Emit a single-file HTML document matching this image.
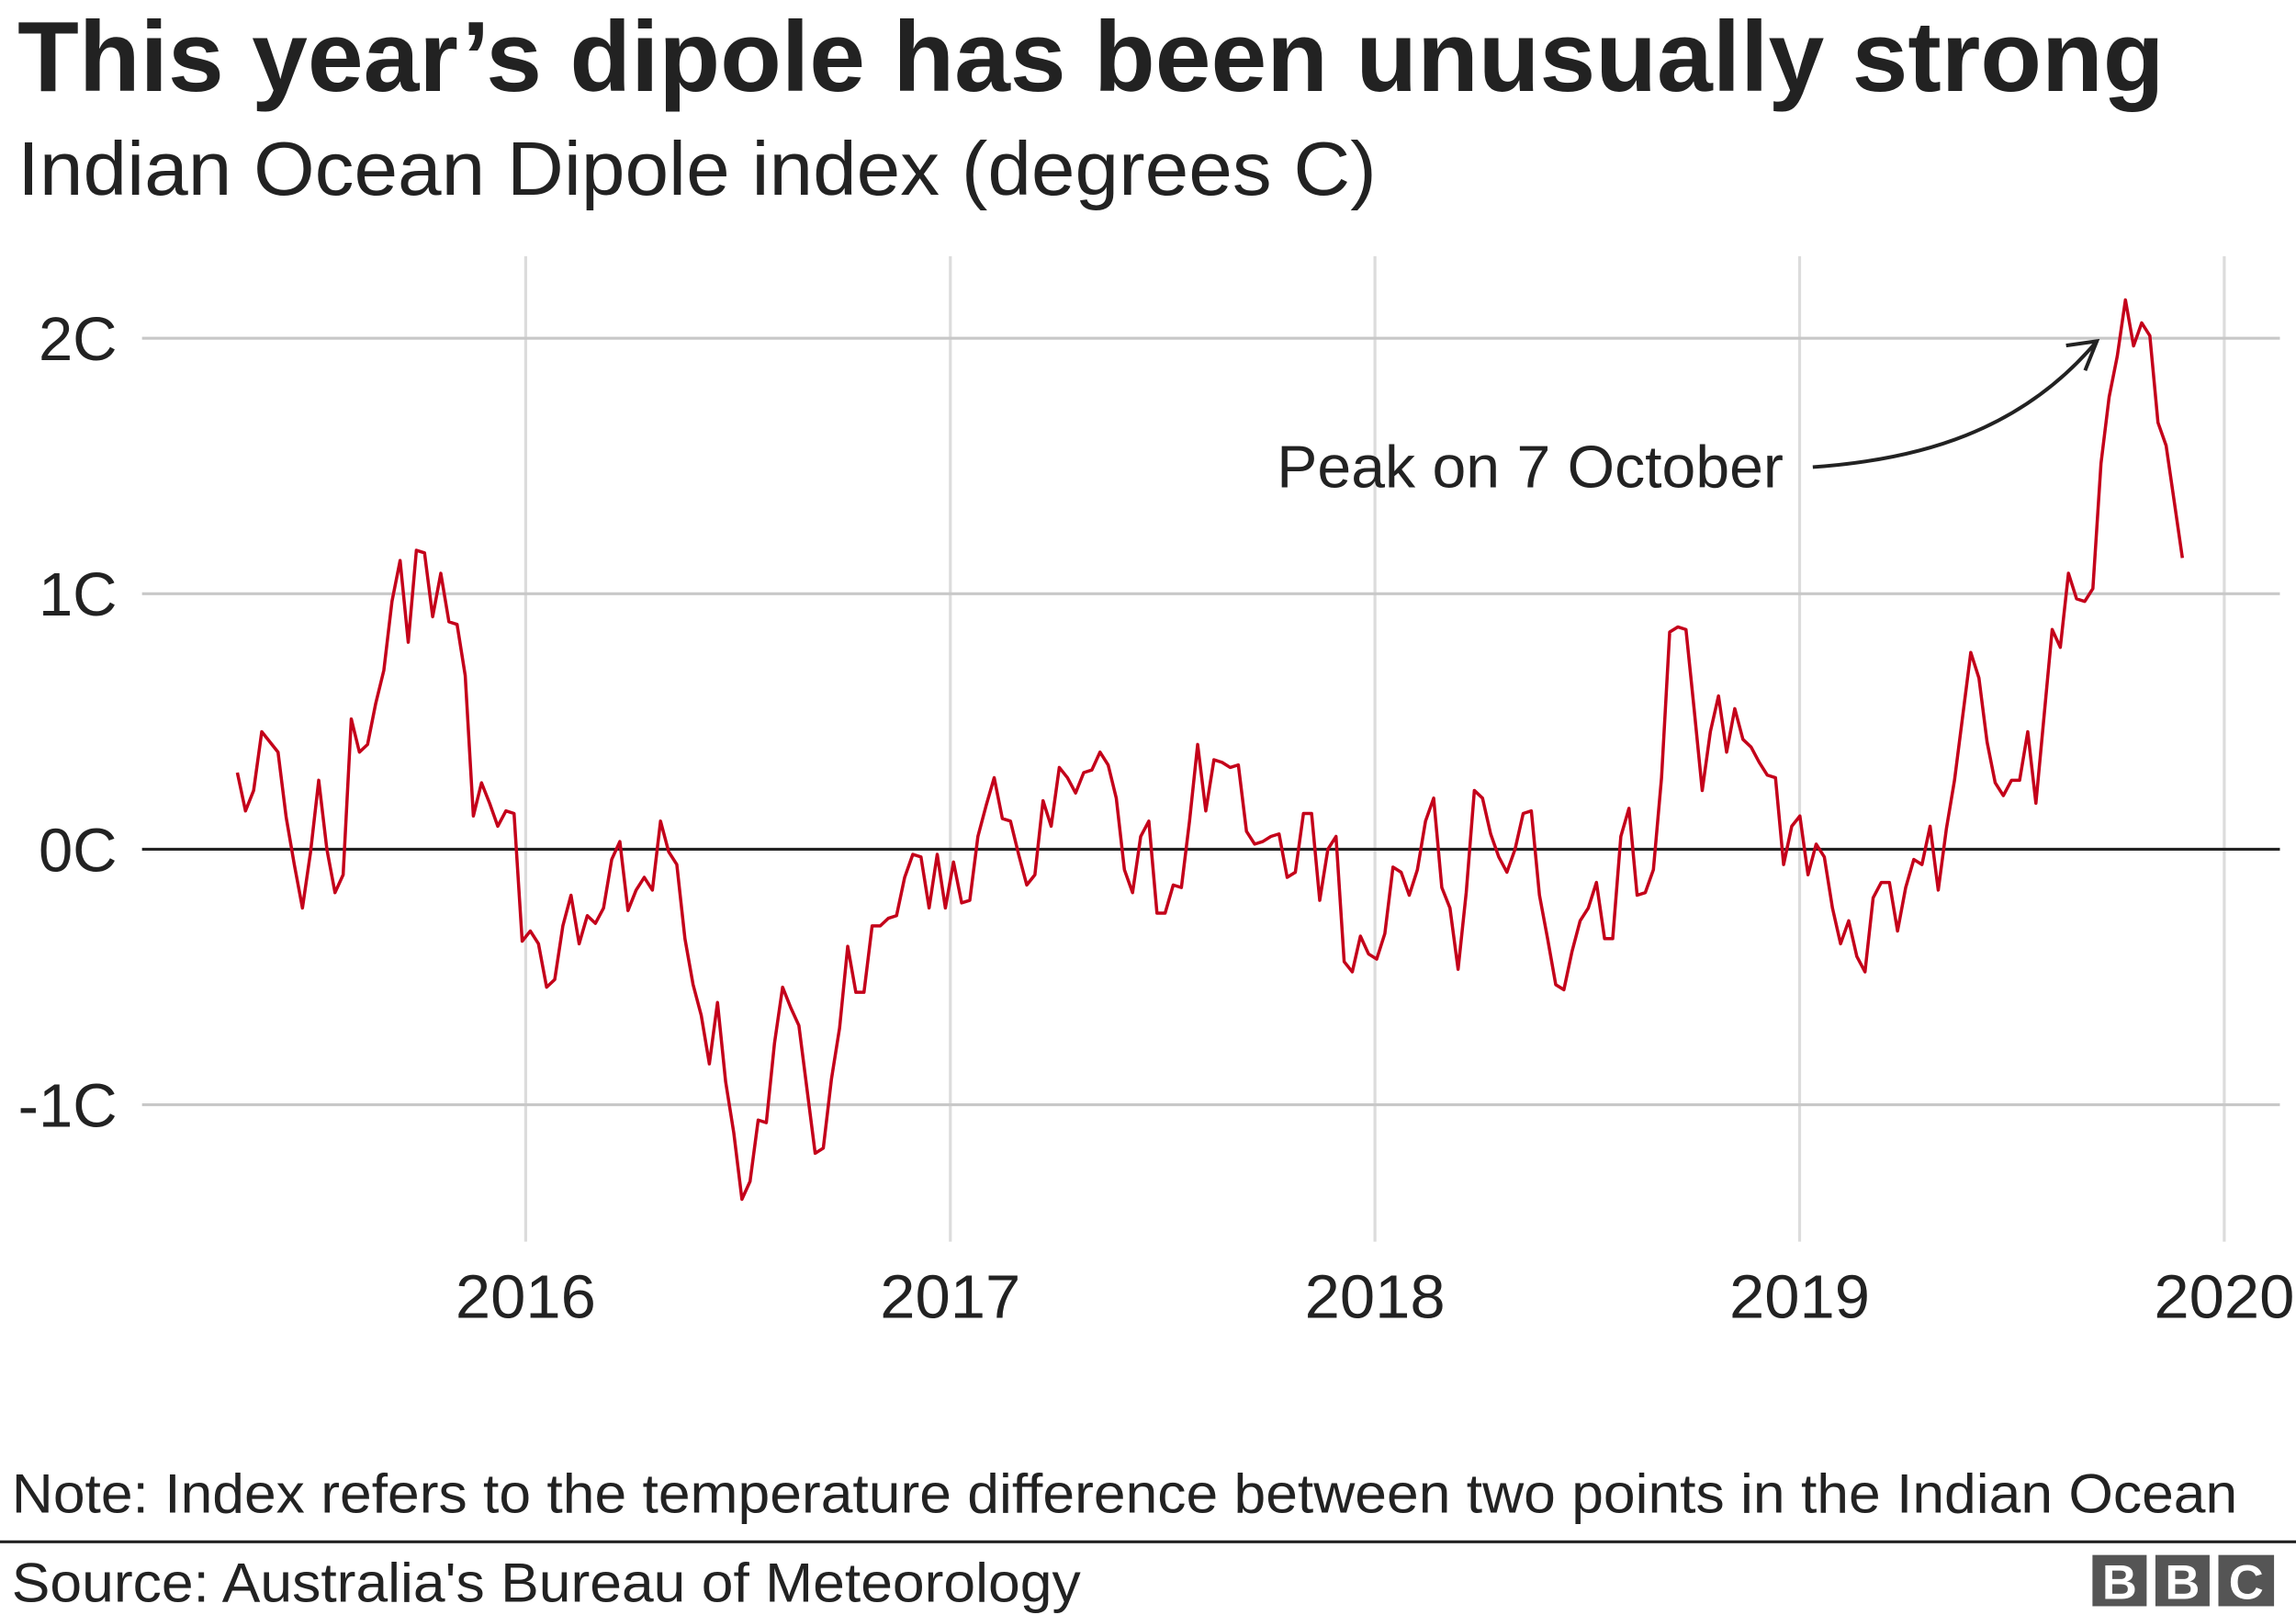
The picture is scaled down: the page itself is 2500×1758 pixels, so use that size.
<!DOCTYPE html>
<html><head><meta charset="utf-8"><style>
html,body{margin:0;padding:0;background:#fff;}
svg{display:block;}
text{font-family:"Liberation Sans",Arial,sans-serif;fill:#222;}
</style></head><body>
<svg id="chart" width="2500" height="1758" viewBox="0 0 1568 1103" preserveAspectRatio="none">
<text x="12" y="62" font-size="68" font-weight="bold" textLength="1466" lengthAdjust="spacingAndGlyphs">This year’s dipole has been unusually strong</text>
<text x="12" y="133" font-size="52" textLength="928" lengthAdjust="spacingAndGlyphs">Indian Ocean Dipole index (degrees C)</text>
<g id="grid"></g>
<g id="axes"></g>
<path id="series" fill="none" stroke="#c4001a" stroke-width="2.2" stroke-linejoin="round"></path>
<text x="872" y="333" font-size="41" textLength="346" lengthAdjust="spacingAndGlyphs">Peak on 7 October</text>
<path d="M1238,319 C1310,314 1380,295 1432,233" fill="none" stroke="#222" stroke-width="2.5"></path>
<path d="M1411,236 L1432,233 L1424,253" fill="none" stroke="#222" stroke-width="2.5"></path>
<text x="8" y="1033" font-size="38" textLength="1520" lengthAdjust="spacingAndGlyphs">Note: Index refers to the temperature difference between two points in the Indian Ocean</text>
<line x1="0" y1="1053" x2="1568" y2="1053" stroke="#222" stroke-width="2"></line>
<text x="8" y="1094" font-size="38" textLength="730" lengthAdjust="spacingAndGlyphs">Source: Australia's Bureau of Meteorology</text>
<g>
<rect x="1429" y="1062" width="37" height="35" fill="#555"></rect>
<rect x="1472" y="1062" width="37" height="35" fill="#555"></rect>
<rect x="1515" y="1062" width="38" height="35" fill="#555"></rect>
<text x="1447.5" y="1092" font-size="33" font-weight="bold" text-anchor="middle" style="fill:#fff">B</text>
<text x="1490.5" y="1092" font-size="33" font-weight="bold" text-anchor="middle" style="fill:#fff">B</text>
<text x="1534" y="1092" font-size="33" font-weight="bold" text-anchor="middle" style="fill:#fff">C</text>
</g>
</svg>
<script>
const startYear = 2015.321;
const yTicks = [2, 1, 0, -1];
const yTickLabels = ["2C", "1C", "0C", "-1C"];
const xTicks = [2016, 2017, 2018, 2019, 2020];
const xTickLabels = ["2016", "2017", "2018", "2019", "2020"];
const values = [
0.30,0.15,0.23,0.46,0.42,0.38,0.125,-0.06,-0.23,-0.01,0.27,0.0,-0.17,-0.10,0.51,0.38,0.41,0.57,0.70,0.97,
1.13,0.81,1.17,1.16,0.91,1.08,0.89,0.88,0.68,0.13,0.26,0.18,0.09,0.15,0.14,-0.36,-0.32,-0.37,-0.54,-0.51,
-0.30,-0.18,-0.37,-0.26,-0.29,-0.23,-0.04,0.03,-0.24,-0.16,-0.11,-0.16,0.11,-0.01,-0.06,-0.35,-0.53,-0.65,-0.84,-0.60,
-0.91,-1.11,-1.37,-1.30,-1.06,-1.07,
-0.76,-0.54,-0.62,-0.69,-0.94,-1.19,-1.17,-0.90,-0.70,-0.38,-0.56,-0.56,-0.30,-0.30,-0.27,-0.26,-0.11,-0.02,-0.03,-0.23,
-0.02,-0.23,-0.05,-0.21,-0.20,0.05,0.17,0.28,0.12,0.11,-0.02,-0.14,-0.10,0.19,0.09,0.32,0.28,0.22,0.30,0.31,
0.38,0.33,0.20,-0.08,-0.17,0.05,0.11,-0.25,-0.25,-0.14,-0.15,0.11,0.41,0.15,0.35,0.34,0.32,0.33,0.07,0.02,
0.03,0.05,0.06,-0.11,-0.09,0.14,
0.14,-0.20,0.0,0.05,-0.44,-0.48,-0.34,-0.41,-0.43,-0.33,-0.07,-0.09,-0.18,-0.08,0.11,0.20,-0.15,-0.23,-0.47,-0.17,
0.23,0.20,0.06,-0.03,-0.09,0.0,0.14,0.15,-0.18,-0.35,-0.53,-0.55,-0.40,-0.28,-0.23,-0.13,-0.35,-0.35,0.05,0.16,
-0.18,-0.17,-0.08,0.28,0.85,0.87,0.86,0.55,0.23,0.46,0.60,0.38,0.55,0.43,0.40,0.34,0.29,0.28,-0.06,0.09,
0.13,-0.10,0.02,-0.03,-0.23,
-0.37,-0.28,-0.42,-0.48,-0.19,-0.13,-0.13,-0.32,-0.15,-0.04,-0.06,0.09,-0.16,0.08,0.27,0.52,0.77,0.67,0.42,0.26,
0.21,0.27,0.27,0.46,0.18,0.52,0.86,0.79,1.08,0.98,0.97,1.02,1.51,1.77,1.93,2.15,1.97,2.06,2.01,1.67,
1.58,1.36,1.14
];
const NS = "http://www.w3.org/2000/svg";
function xs(yr){ return 359 + (yr - 2016) * 290; }
function ys(v){ return 580 - v * 174.5; }
const grid = document.getElementById('grid');
const axes = document.getElementById('axes');
xTicks.forEach((t, i) => {
  const l = document.createElementNS(NS, 'line');
  l.setAttribute('x1', xs(t)); l.setAttribute('x2', xs(t));
  l.setAttribute('y1', 175); l.setAttribute('y2', 848);
  l.setAttribute('stroke', '#dcdcdc'); l.setAttribute('stroke-width', '2');
  
  
  grid.appendChild(l);
  const tx = document.createElementNS(NS, 'text');
  tx.setAttribute('x', xs(t)); tx.setAttribute('y', 900);
  tx.setAttribute('font-size', '42'); tx.setAttribute('text-anchor', 'middle');
  tx.setAttribute('textLength', '96'); tx.setAttribute('lengthAdjust', 'spacingAndGlyphs');
  tx.textContent = xTickLabels[i];
  
  
  axes.appendChild(tx);
});
yTicks.forEach((t, i) => {
  const l = document.createElementNS(NS, 'line');
  l.setAttribute('x1', 97); l.setAttribute('x2', 1557);
  l.setAttribute('y1', ys(t)); l.setAttribute('y2', ys(t));
  l.setAttribute('stroke', t === 0 ? '#222' : '#c8c8c8'); l.setAttribute('stroke-width', '2');
  
  
  grid.appendChild(l);
  const tx = document.createElementNS(NS, 'text');
  tx.setAttribute('x', 80); tx.setAttribute('y', ys(t) + 15);
  tx.setAttribute('font-size', '42'); tx.setAttribute('text-anchor', 'end');
  tx.textContent = yTickLabels[i];
  
  
  axes.appendChild(tx);
});
const dates = values.map((v, i) => startYear + i * 7 / 365.25);
let d = '';
values.forEach((v, i) => { d += (i ? 'L' : 'M') + xs(dates[i]).toFixed(2) + ',' + ys(v).toFixed(2); });
document.getElementById('series').setAttribute('d', d);
</script>
</body></html>
